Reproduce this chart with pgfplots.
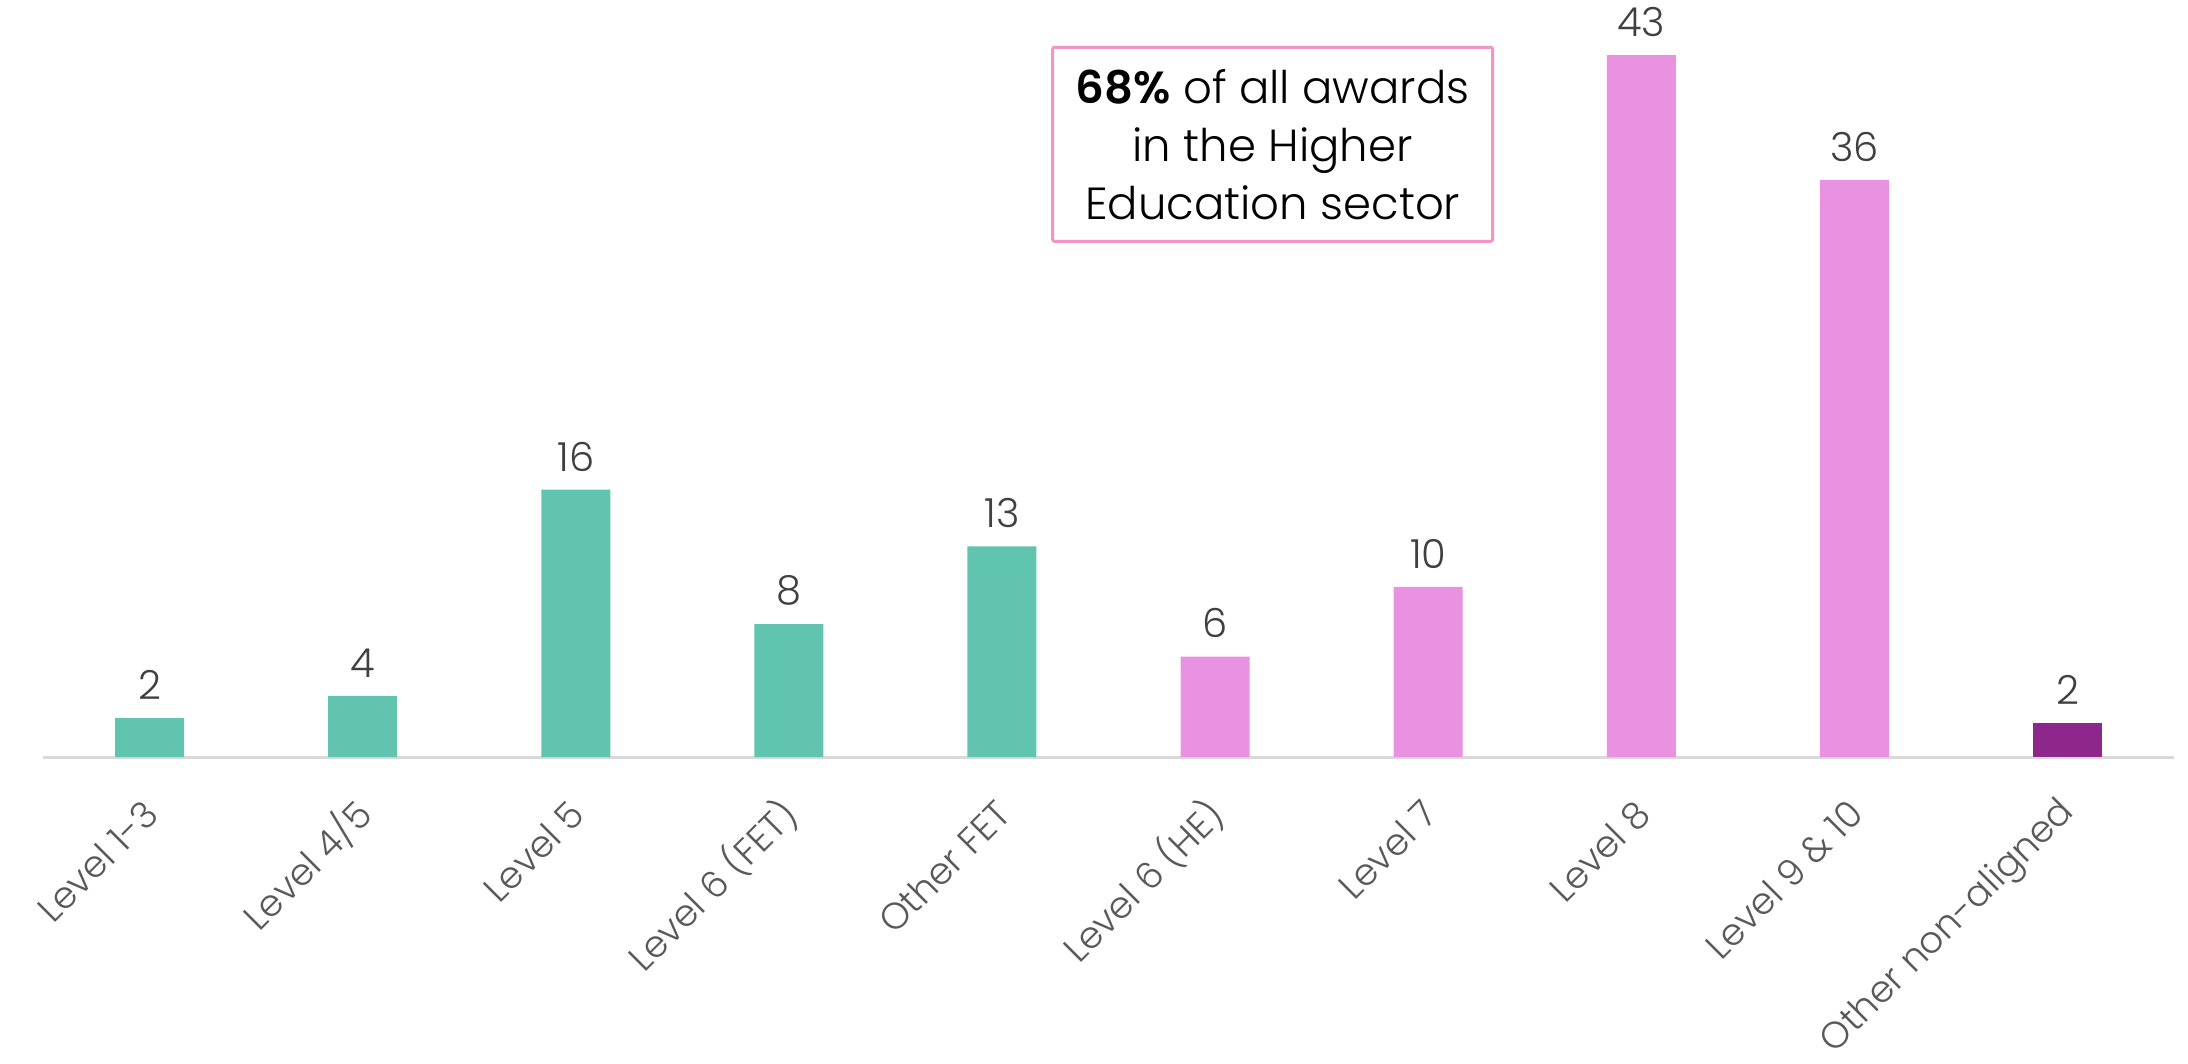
\documentclass[border=0pt]{standalone}
\usepackage{pgfplots}
\pgfplotsset{compat=1.18}
\usepackage{fontspec}
\setmainfont{Poppins}[UprightFont=* Light, BoldFont=* SemiBold]
\definecolor{teal}{HTML}{60C4AF}
\definecolor{pinkbar}{HTML}{E992E2}
\definecolor{purplebar}{HTML}{8E278C}
\definecolor{boxpink}{HTML}{F394C4}
\definecolor{axisgray}{HTML}{D9D9D9}
\definecolor{labelgray}{HTML}{595959}
\definecolor{valgray}{HTML}{404040}
\begin{document}
\begin{tikzpicture}
% page = 2188 x 1064 px, 1px = 0.5pt
\useasboundingbox (-21.5pt,-153.5pt) rectangle (1072.5pt,378.5pt);
\begin{axis}[
    at={(0pt,0pt)}, anchor=south west,
    scale only axis,
    width=1065.5pt, height=378.5pt,
    ybar, bar width=34.5pt, bar shift=0pt,
    xmin=-0.5, xmax=9.5,
    ymin=0, ymax=46.7,
    axis x line=bottom, axis y line=none,
    axis line style={axisgray, line width=1.5pt, -},
    xtick={0,...,9},
    xticklabels={Level 1-3, Level 4/5, Level 5, Level 6 (FET), Other FET,
        Level 6 (HE), Level 7, Level 8, Level 9 \& 10, Other non-aligned},
    major tick length=0pt,
    xticklabel style={xshift=1pt, yshift=-25pt, rotate=45, anchor=east,
        font=\fontsize{18.5}{20}\selectfont, text=labelgray, inner sep=0pt},
    ytick=\empty,
    point meta=explicit symbolic,
    nodes near coords,
    every node near coord/.append style={anchor=south, inner sep=0pt, yshift=9pt,
        font=\fontsize{20}{22}\selectfont, text=valgray},
    clip=false,
]
\addplot[fill=teal, draw=none] coordinates {
    (0,2.4) [2] (1,3.77) [4] (2,16.5) [16] (3,8.2) [8] (4,13.0) [13]};
\addplot[fill=pinkbar, draw=none] coordinates {
    (5,6.2) [6] (6,10.5) [10] (7,43.3) [43] (8,35.6) [36]};
\addplot[fill=purplebar, draw=none] coordinates {
    (9,2.1) [2]};
\node[draw=boxpink, line width=1.5pt, rounded corners=1pt, fill=white,
    minimum width=220pt, minimum height=97pt, align=center,
    font=\fontsize{22.5}{29}\selectfont, text=black]
    at (axis cs:5.27,37.8)
    {\textbf{68\%} of all awards\\in the Higher\\Education sector};
\end{axis}
\end{tikzpicture}
\end{document}
